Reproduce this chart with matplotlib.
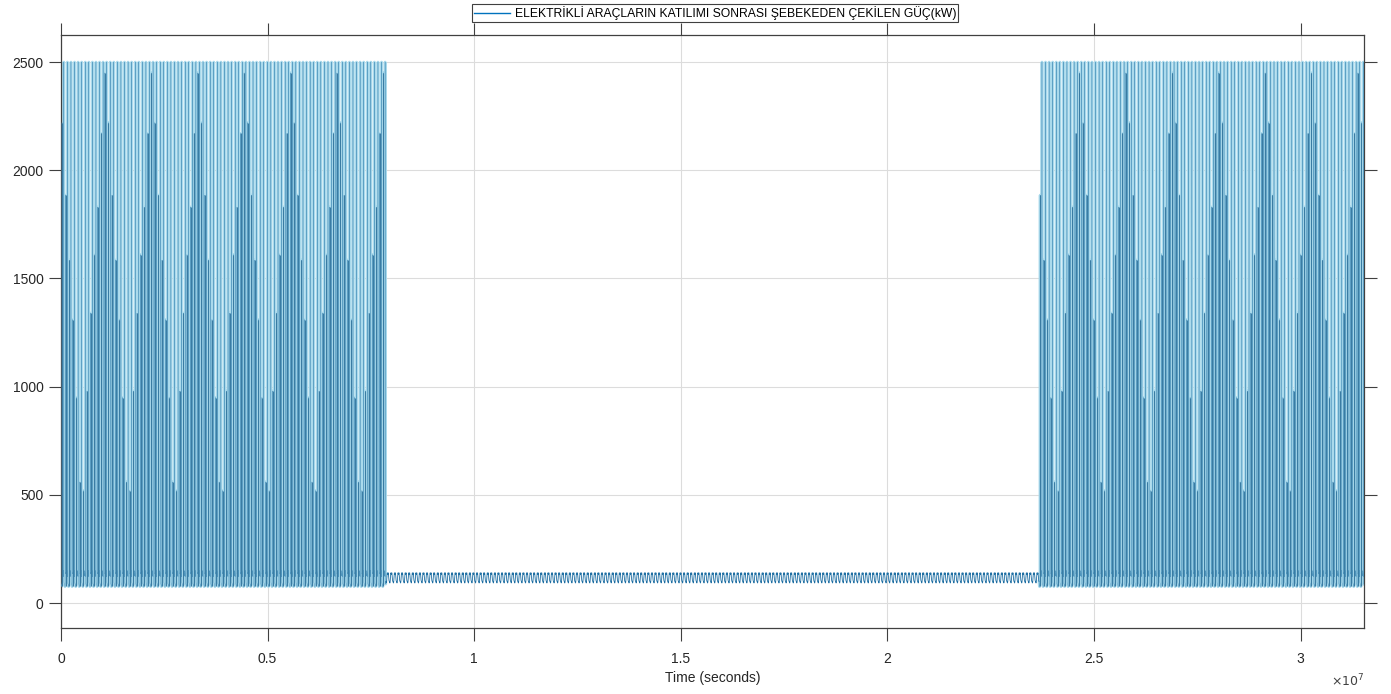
import numpy as np
import matplotlib.pyplot as plt
from matplotlib.ticker import FuncFormatter

plt.rcParams['font.family'] = ['Liberation Sans', 'DejaVu Sans']

DAY = 86400
N_DAYS = 365

# days with EV charging (start day, end day)
ev_start = [0, 274]
ev_end = [91, 365]

# hourly grid load without EV (kW), one typical day
base_no_ev = [100, 96, 94, 93, 95, 100, 110, 122, 132, 138, 140, 138,
              134, 132, 134, 138, 140, 136, 128, 118, 110, 105, 102, 100]
# hourly load on EV days apart from the charging peaks (kW)
base_ev = [88, 82, 78, 76, 78, 85, 100, 120, 135, 142, 140, 132,
           126, 128, 136, 146, 150, 140, 122, 106, 96, 92, 90, 88]

peak_kw = 2500          # daily charging peak
peak_hour = 19
# second charging pulse, heights seen repeating every 13 days
pulse_hour = 7
pulse_kw = [2450, 2220, 1885, 1585, 1310, 950, 560, 520, 980, 1340, 1610, 1830, 2170]

legend_txt = "ELEKTRİKLİ ARAÇLARIN KATILIMI SONRASI ŞEBEKEDEN ÇEKİLEN GÜÇ(kW)"

# ------------------------------------------------------------
# build the yearly series
# ------------------------------------------------------------
t = []
p = []
ev = []
pulse_t = []
pulse_h = []
for d in range(N_DAYS):
    ev_day = any(s <= d < e for s, e in zip(ev_start, ev_end))
    prof = base_ev if ev_day else base_no_ev
    for h in range(24):
        v = prof[h]
        if ev_day and h == peak_hour:
            v = peak_kw
        if ev_day and h == pulse_hour:
            v = pulse_kw[(d + 1) % len(pulse_kw)]
            pulse_t.append((d * 24 + h) * 3600)
            pulse_h.append(v)
        t.append((d * 24 + h) * 3600)
        p.append(v)
        ev.append(ev_day)
t = np.array(t)
p = np.array(p, dtype=float)
ev = np.array(ev)

# let the two parts overlap by one sample so the line stays connected
ev_wide = ev | np.roll(ev, 1) | np.roll(ev, -1)
p_ev = np.where(ev_wide, p, np.nan)
p_no = np.where(ev, np.nan, p)

fig = plt.figure(figsize=(13.91, 6.94), dpi=100)
ax = fig.add_axes([61 / 1391, 1 - 628 / 694, 1303 / 1391, 593 / 694])

ax.plot(t, p_ev, color='#aadaec', lw=2.0, zorder=2)
ax.plot(t, p_ev, color='#4f95bd', lw=0.3, zorder=3)
ax.plot(t, p_no, color='#1f6fa3', lw=0.6, zorder=3)
ax.vlines(pulse_t, 80, pulse_h, color='#3a7ca3', lw=0.8, zorder=4)
ax.plot([], [], color='#0072BD', lw=1.0, label=legend_txt)

ax.set_xlim(0, N_DAYS * DAY)
ax.set_ylim(-115, 2625)
ax.set_xticks(np.arange(0, 3.01e7, 0.5e7))
ax.set_yticks([0, 500, 1000, 1500, 2000, 2500])
ax.xaxis.set_major_formatter(FuncFormatter(lambda v, pos: f"{v / 1e7:g}"))

ax.grid(True, color='#dcdcdc', lw=0.8)
ax.set_axisbelow(True)
ax.tick_params(direction='out', length=9, width=0.8, colors='#404040',
               labelcolor='#262626', labelsize=10, top=True, right=True)
ax.tick_params(axis='x', pad=8)
for s in ax.spines.values():
    s.set_color('#404040')
    s.set_linewidth(0.9)

ax.set_xlabel("Time (seconds)", fontsize=10, color='#262626', labelpad=4)
ax.text(1.0, -0.09, r"$\times 10^{7}$", transform=ax.transAxes,
        ha='right', va='center', fontsize=9, color='#404040')

leg = ax.legend(loc='upper center', bbox_to_anchor=(0.502, 1.052),
                fontsize=8.7, handlelength=3.0, handletextpad=0.4,
                borderpad=0.15, borderaxespad=0,
                fancybox=False, framealpha=1, edgecolor='#404040')
leg.get_frame().set_linewidth(0.8)

fig.savefig("out.png", dpi=100)
